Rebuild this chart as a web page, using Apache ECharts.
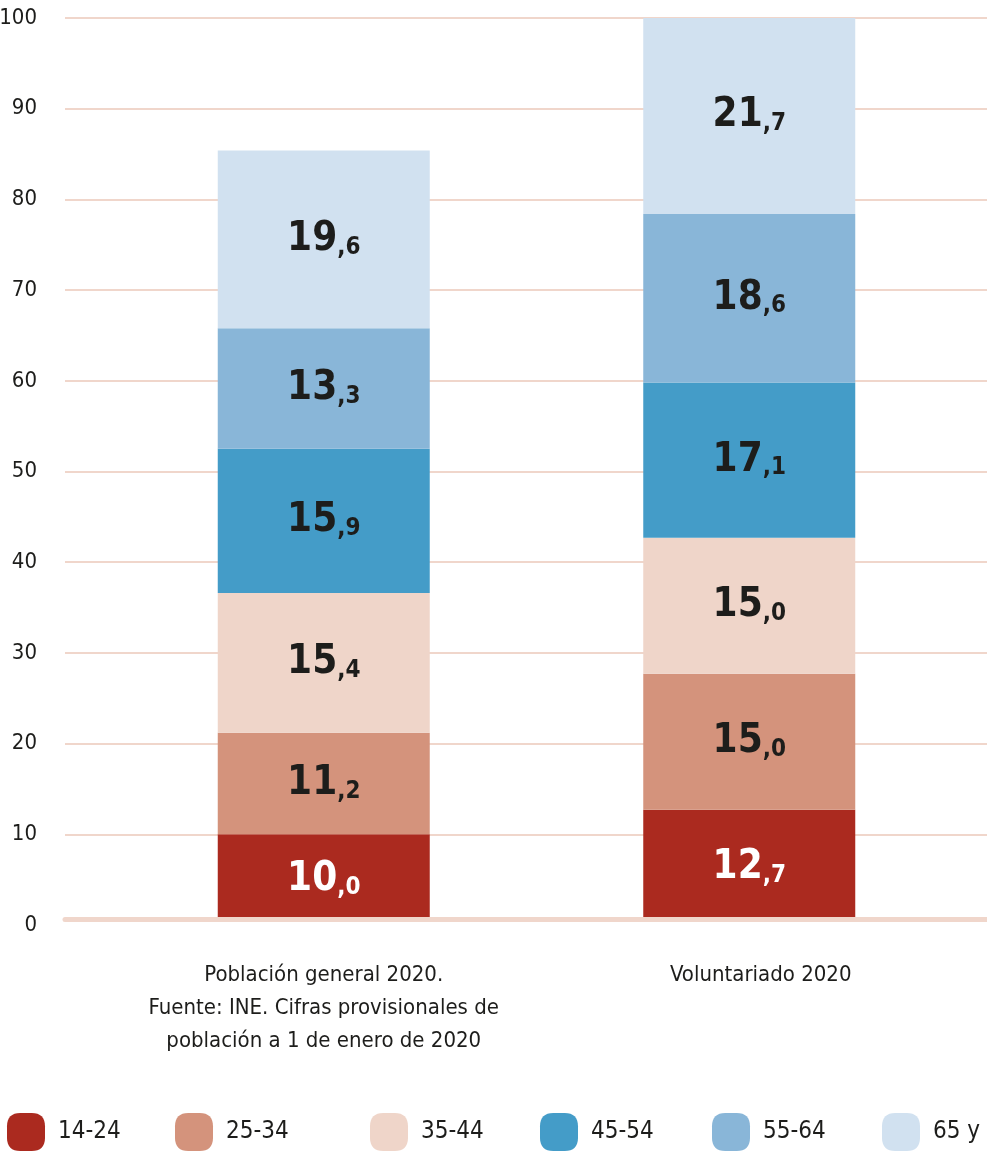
<!DOCTYPE html>
<html>
<head>
<meta charset="utf-8">
<script src="https://cdn.jsdelivr.net/npm/echarts@6/dist/echarts.min.js"></script>
<style>
  html, body { margin: 0; padding: 0; background: #fff; }
  #chart { width: 987px; height: 1151px; }
</style>
</head>
<body>
<div id="chart"></div>
<script>
// datos
var categorias = [
    'Población general 2020.\nFuente: INE. Cifras provisionales de\npoblación a 1 de enero de 2020',
    'Voluntariado 2020'
];
var grupos = ['14-24', '25-34', '35-44', '45-54', '55-64', '65 y más'];
var edad1424 = [10.0, 12.7];
var edad2534 = [11.2, 15.0];
var edad3544 = [15.4, 15.0];
var edad4554 = [15.9, 17.1];
var edad5564 = [13.3, 18.6];
var edad65 = [19.6, 21.7];
var ticksY = [0, 10, 20, 30, 40, 50, 60, 70, 80, 90, 100];

var colores = ['#ab2a1f', '#d4937c', '#efd5c9', '#449cc8', '#89b6d8', '#d1e1f0'];
var lineaColor = '#f0d6cb';
var fuenteC = '"Liberation Sans Narrow", "DejaVu Sans Condensed", sans-serif';
var icono = 'path://M35,0H65C88,0 100,12 100,35V65C100,88 88,100 65,100H35C12,100 0,88 0,65V35C0,12 12,0 35,0Z';

// etiqueta: parte entera grande, decimal pequeño
function etiqueta(color) {
    return {
        show: true,
        position: 'inside',
        formatter: function (p) {
            var t = p.value.toFixed(1).split('.');
            return '{a|' + t[0] + '}{b|,' + t[1] + '}';
        },
        rich: {
            a: {
                fontFamily: fuenteC, fontWeight: 'bold', fontSize: 40,
                color: color, verticalAlign: 'bottom', lineHeight: 40
            },
            b: {
                fontFamily: fuenteC, fontWeight: 'bold', fontSize: 24,
                color: color, verticalAlign: 'bottom', lineHeight: 32
            }
        }
    };
}

var datos = [edad1424, edad2534, edad3544, edad4554, edad5564, edad65];
var series = datos.map(function (d, i) {
    return {
        name: grupos[i],
        type: 'bar',
        stack: 'total',
        xAxisIndex: 2,
        yAxisIndex: 1,
        barWidth: 212,
        itemStyle: { color: colores[i] },
        label: etiqueta(i === 0 ? '#ffffff' : '#1d1d1b'),
        data: d
    };
});

// leyendas sueltas, el espaciado no es regular
var posLeyenda = [7, 175, 370, 540, 712, 882];
var leyendas = grupos.map(function (g, i) {
    return {
        left: posLeyenda[i],
        top: 1113,
        padding: 0,
        itemWidth: 38,
        itemHeight: 38,
        itemGap: 0,
        icon: icono,
        data: [g],
        selectedMode: false,
        textStyle: { fontFamily: fuenteC, fontSize: 24, color: '#1d1d1b', padding: [0, 0, 0, 8] }
    };
});

var myChart = echarts.init(document.getElementById('chart'));
myChart.setOption({
    animation: false,
    backgroundColor: '#ffffff',
    legend: leyendas,
    grid: [
        { left: 65, right: 0, top: 18, bottom: 226, outerBoundsMode: 'none' },
        { left: 111, width: 851, top: 18, bottom: 226, outerBoundsMode: 'none' }
    ],
    xAxis: [{
        // franja blanca que tapa el pie de las barras
        gridIndex: 0,
        type: 'category',
        data: [''],
        z: 10,
        axisLine: { show: true, lineStyle: { color: '#ffffff', width: 8 } },
        axisTick: { show: false },
        axisLabel: { show: false }
    }, {
        // línea base gruesa
        gridIndex: 0,
        type: 'category',
        position: 'bottom',
        offset: -6,
        data: [''],
        z: 11,
        axisLine: { show: true, lineStyle: { color: lineaColor, width: 5 } },
        axisTick: { show: false },
        axisLabel: { show: false }
    }, {
        gridIndex: 1,
        type: 'category',
        data: [categorias[0], { value: categorias[1], textStyle: { padding: [0, 0, 0, 23] } }],
        axisLine: { show: false },
        axisTick: { show: false },
        axisLabel: {
            interval: 0,
            margin: 34,
            fontFamily: fuenteC,
            fontSize: 22,
            lineHeight: 33,
            color: '#1d1d1b'
        }
    }],
    yAxis: [{
        gridIndex: 0,
        type: 'value',
        min: ticksY[0],
        max: ticksY[ticksY.length - 1],
        interval: 10,
        axisLine: { show: false },
        axisTick: { show: false },
        splitLine: { lineStyle: { color: lineaColor, width: 2 } },
        axisLabel: { margin: 28, fontFamily: fuenteC, fontSize: 22, color: '#1d1d1b' }
    }, {
        gridIndex: 1,
        type: 'value',
        min: 0,
        max: 100,
        show: false
    }],
    series: series
});
</script>
</body>
</html>
